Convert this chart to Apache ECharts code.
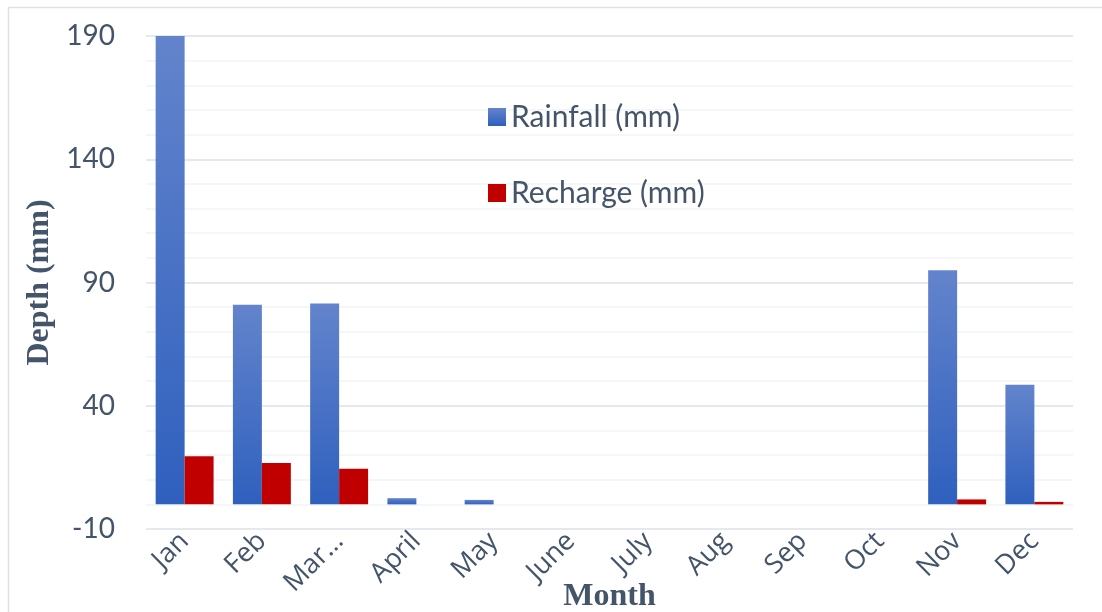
<!DOCTYPE html>
<html>
<head>
<meta charset="utf-8">
<script src="https://cdn.jsdelivr.net/npm/echarts@6/dist/echarts.min.js"></script>
<style>html,body{margin:0;padding:0;background:#fff}#c{width:1102px;height:612px}</style>
</head>
<body>
<div id="c"></div>
<script>
var months = ['Jan', 'Feb', 'Mar…', 'April', 'May', 'June', 'July', 'Aug', 'Sep', 'Oct', 'Nov', 'Dec'];
var rainfall = [190, 81, 81.5, 2.5, 1.8, 0, 0, 0, 0, 0, 95, 48.5];
var recharge = [19.5, 16.8, 14.4, 0, 0, 0, 0, 0, 0, 0, 2, 1];
var yTicks = { min: -10, max: 190, interval: 50 };

var chart = echarts.init(document.getElementById('c'));
var txt = '#44546a';
chart.setOption({
  animation: false,
  graphic: [{
    type: 'polyline', silent: true,
    shape: { points: [[8.5, 620], [8.5, 7.5], [1110, 7.5]] },
    style: { stroke: '#dde2ea', lineWidth: 1.5, fill: null }
  }],
  grid: { left: 146, right: 29, top: 36, bottom: 83, containLabel: false, outerBoundsMode: 'none' },
  legend: {
    orient: 'vertical', left: 483, top: 97, itemGap: 46,
    itemWidth: 18, itemHeight: 18, icon: 'rect',
    textStyle: { color: txt, fontSize: 30, fontFamily: 'Lato', padding: [0, 0, 0, 0] },
    data: ['Rainfall (mm)', 'Recharge (mm)']
  },
  xAxis: {
    type: 'category', data: months,
    name: 'Month', nameLocation: 'middle', nameGap: 52, nameMoveOverlap: false,
    nameTextStyle: { color: txt, fontSize: 32, fontWeight: 'bold', fontFamily: 'Liberation Serif' },
    axisLine: { show: false }, axisTick: { show: false },
    axisLabel: { rotate: 45, color: txt, fontSize: 27, fontFamily: 'Open Sans', margin: 8, interval: 0 }
  },
  yAxis: {
    type: 'value', min: yTicks.min, max: yTicks.max, interval: yTicks.interval,
    name: 'Depth (mm)', nameLocation: 'middle', nameGap: 86, nameRotate: 90,
    nameTextStyle: { color: txt, fontSize: 32, fontWeight: 'bold', fontFamily: 'Liberation Serif' },
    axisLine: { show: false }, axisTick: { show: false },
    axisLabel: { color: txt, fontSize: 28, fontFamily: 'Lato', margin: 31 },
    splitLine: { lineStyle: { color: '#dde2ea', width: 1.5 } },
    minorTick: { show: false, splitNumber: 5 },
    minorSplitLine: { show: true, lineStyle: { color: '#f2f3f5', width: 1.5 } }
  },
  series: [{
    name: 'Rainfall (mm)', type: 'bar', data: rainfall,
    barGap: '0%', barCategoryGap: '25%',
    itemStyle: {
      color: new echarts.graphic.LinearGradient(0, 0, 0, 1, [
        { offset: 0, color: '#6384cc' }, { offset: 1, color: '#2f60be' }
      ])
    }
  }, {
    name: 'Recharge (mm)', type: 'bar', data: recharge,
    itemStyle: { color: '#c00000' }
  }]
});
</script>
</body>
</html>
